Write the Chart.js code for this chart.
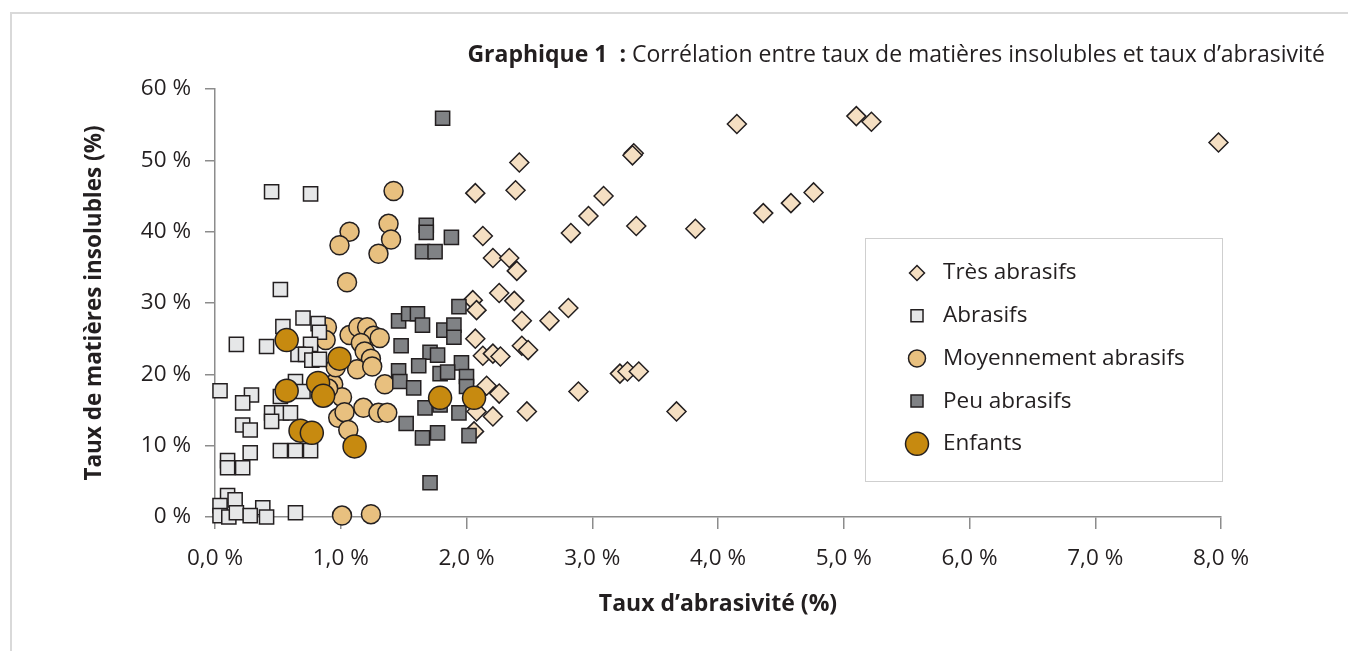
<!DOCTYPE html>
<html>
<head>
<meta charset="utf-8">
<script src="https://cdn.jsdelivr.net/npm/chart.js"></script>
<style>
  html, body { margin: 0; padding: 0; background: #fff; }
  #wrap { position: relative; width: 1348px; height: 651px; overflow: hidden; }
  #frame { position: absolute; left: 10px; top: 12px; width: 1400px; height: 700px; border: 2px solid #d9d9d9; box-sizing: border-box; }
  canvas { position: absolute; left: 0; top: 0; }
</style>
</head>
<body>
<div id="wrap">
  <div id="frame"></div>
  <canvas id="chart" width="1348" height="651"></canvas>
</div>
<script>
// values in % (x = taux d'abrasivité, y = taux de matières insolubles)
const tresX = [7.98, 5.10, 5.22, 4.15, 3.33, 3.32, 2.42, 2.07, 2.39, 3.09, 2.97, 2.83, 3.35, 3.82, 4.36, 4.58, 4.76,
  2.13, 2.21, 2.34, 2.40, 2.26, 2.05, 2.08, 2.38, 2.81, 2.66, 2.44, 2.07, 2.13, 2.21, 2.27, 2.44, 2.49,
  3.22, 3.28, 3.37, 2.89, 2.16, 2.26, 2.08, 2.21, 2.48, 2.06, 3.67];
const tresY = [52.5, 56.2, 55.4, 55.1, 51.0, 50.7, 49.7, 45.4, 45.8, 45.0, 42.2, 39.8, 40.8, 40.4, 42.6, 44.0, 45.5,
  39.4, 36.3, 36.3, 34.5, 31.4, 30.4, 29.0, 30.3, 29.3, 27.5, 27.5, 25.0, 22.6, 22.9, 22.5, 24.0, 23.4,
  20.1, 20.4, 20.4, 17.6, 18.4, 17.3, 14.8, 14.1, 14.8, 12.0, 14.8];

const abrX = [0.45, 0.76, 0.52, 0.70, 0.54, 0.82, 0.83, 0.17, 0.41, 0.76, 0.66, 0.72, 0.77, 0.83,
  0.04, 0.29, 0.22, 0.52, 0.64, 0.70, 0.45, 0.53, 0.60, 0.45, 0.22, 0.28, 0.52, 0.64, 0.76, 0.28,
  0.10, 0.10, 0.22, 0.10, 0.16, 0.04, 0.38, 0.04, 0.11, 0.17, 0.28, 0.41, 0.64];
const abrY = [45.6, 45.3, 31.9, 27.9, 26.7, 27.1, 25.9, 24.2, 23.9, 24.2, 22.8, 22.8, 22.0, 22.1,
  17.7, 17.1, 16.0, 16.9, 19.0, 17.6, 14.6, 14.6, 14.6, 13.4, 12.9, 12.2, 9.3, 9.3, 9.3, 9.0,
  7.9, 6.9, 6.9, 3.0, 2.4, 1.6, 1.3, 0.2, 0.0, 0.6, 0.2, 0.0, 0.6];

const moyX = [1.42, 1.38, 1.40, 1.07, 0.99, 1.30, 1.05, 0.89, 0.88, 1.07, 1.14, 1.21, 1.26, 1.31, 1.16, 1.19, 1.24,
  1.13, 1.25, 0.94, 1.01, 1.35, 1.18, 1.30, 1.37, 0.98, 1.03, 1.06, 1.01, 1.24, 0.96, 0.90];
const moyY = [45.7, 41.1, 38.9, 40.0, 38.1, 36.9, 32.9, 26.6, 24.8, 25.5, 26.6, 26.6, 25.4, 25.1, 24.4, 23.2, 22.2,
  20.7, 21.1, 18.6, 16.8, 18.6, 15.3, 14.6, 14.6, 13.9, 14.7, 12.2, 0.2, 0.4, 21.0, 18.0];

const peuX = [1.81, 1.68, 1.68, 1.88, 1.65, 1.75, 1.94, 1.46, 1.54, 1.61, 1.65, 1.82, 1.90, 1.90, 1.48, 1.71, 1.77,
  1.62, 1.96, 1.46, 1.47, 1.79, 1.85, 2.00, 2.00, 1.58, 1.67, 1.79, 1.94, 1.52, 1.77, 1.65, 2.02, 1.71];
const peuY = [55.9, 40.9, 39.9, 39.2, 37.2, 37.2, 29.5, 27.5, 28.5, 28.5, 26.9, 26.2, 26.9, 25.2, 24.0, 23.1, 22.7,
  21.2, 21.6, 20.5, 19.0, 20.1, 20.3, 19.7, 18.3, 18.1, 15.3, 15.7, 14.6, 13.1, 11.8, 11.1, 11.4, 4.8];

const enfX = [0.57, 0.99, 0.57, 0.82, 0.86, 0.68, 0.77, 1.11, 1.79, 2.06];
const enfY = [24.8, 22.2, 17.7, 18.8, 17.0, 12.1, 11.8, 9.9, 16.7, 16.7];

const xTicks = [0, 1, 2, 3, 4, 5, 6, 7, 8];
const yTicks = [0, 10, 20, 30, 40, 50, 60];

const FONT = '"Open Sans"';
const FSIZE = 22.5;
const INK = '#231f20';
const AXIS = '#8c8c8c';

function pairs(xs, ys) {
  return xs.map((x, i) => ({ x: x, y: ys[i] }));
}

const datasets = [
  { label: 'Très abrasifs', data: pairs(tresX, tresY), pointStyle: 'rectRot', pointRadius: 9.5,
    backgroundColor: '#f5dfc2', order: 4, legendR: 7.5 },
  { label: 'Abrasifs', data: pairs(abrX, abrY), pointStyle: 'rect', pointRadius: 10,
    backgroundColor: '#e6e7e8', order: 2, legendR: 8.5 },
  { label: 'Moyennement abrasifs', data: pairs(moyX, moyY), pointStyle: 'circle', pointRadius: 9.5,
    backgroundColor: '#e8c07f', order: 3, legendR: 8.5 },
  { label: 'Peu abrasifs', data: pairs(peuX, peuY), pointStyle: 'rect', pointRadius: 10,
    backgroundColor: '#808285', order: 1, legendR: 8.5 },
  { label: 'Enfants', data: pairs(enfX, enfY), pointStyle: 'circle', pointRadius: 11.5,
    backgroundColor: '#c78a10', order: 0, legendR: 11.5 }
];
datasets.forEach(d => {
  d.borderColor = INK;
  d.borderWidth = 1.5;
  d.pointHoverRadius = d.pointRadius;
  d.clip = false;
});

function drawShape(ctx, style, r, x, y) {
  ctx.beginPath();
  if (style === 'rectRot') {
    ctx.moveTo(x - r, y);
    ctx.lineTo(x, y - r);
    ctx.lineTo(x + r, y);
    ctx.lineTo(x, y + r);
    ctx.closePath();
  } else if (style === 'rect') {
    const s = r * Math.SQRT1_2;
    ctx.rect(x - s, y - s, 2 * s, 2 * s);
  } else {
    ctx.arc(x, y, r, 0, Math.PI * 2);
  }
  ctx.fill();
  ctx.stroke();
}

const overlay = {
  id: 'overlay',
  afterDraw(chart) {
    const ctx = chart.ctx;
    ctx.save();
    // title, right aligned
    const rest = 'Corrélation entre taux de matières insolubles et taux d’abrasivité';
    ctx.fillStyle = INK;
    ctx.textBaseline = 'middle';
    ctx.textAlign = 'right';
    ctx.font = '23px ' + FONT;
    ctx.fillText(rest, 1325, 55);
    const w = ctx.measureText(rest).width;
    ctx.font = 'bold 23px ' + FONT;
    ctx.fillText('Graphique 1  : ', 1325 - w, 55);

    // legend box
    ctx.fillStyle = '#fff';
    ctx.fillRect(865.5, 238.5, 357, 243);
    ctx.strokeStyle = '#cfcfcf';
    ctx.lineWidth = 1;
    ctx.strokeRect(865.5, 238.5, 357, 243);
    chart.data.datasets.forEach((d, i) => {
      const y = 273 + i * 42.7;
      ctx.fillStyle = d.backgroundColor;
      ctx.strokeStyle = d.borderColor;
      ctx.lineWidth = 1.5;
      drawShape(ctx, d.pointStyle, d.legendR, 917, y);
      ctx.fillStyle = INK;
      ctx.textAlign = 'left';
      ctx.font = FSIZE + 'px ' + FONT;
      ctx.fillText(d.label, 943, y);
    });
    ctx.restore();
  }
};

new Chart(document.getElementById('chart'), {
  type: 'scatter',
  data: { datasets: datasets },
  options: {
    responsive: false,
    animation: false,
    events: [],
    layout: { padding: { top: 89, right: 127, bottom: 0, left: 0 } },
    plugins: { legend: { display: false }, tooltip: { enabled: false }, title: { display: false } },
    scales: {
      x: {
        type: 'linear', min: 0, max: 8,
        afterBuildTicks: s => { s.ticks = xTicks.map(v => ({ value: v })); },
        afterFit: s => { s.height = 134; },
        ticks: {
          color: INK, padding: 16, font: { family: FONT, size: FSIZE },
          callback: v => v.toFixed(1).replace('.', ',') + ' %'
        },
        grid: { drawOnChartArea: false, tickLength: 12, color: AXIS, lineWidth: 1.5 },
        border: { color: AXIS, width: 1.5 },
        title: { display: true, text: 'Taux d’abrasivité (%)', color: INK,
          font: { family: FONT, size: 23, weight: 'bold' }, padding: { top: 0, bottom: 33 } }
      },
      y: {
        type: 'linear', min: 0, max: 60,
        afterBuildTicks: s => { s.ticks = yTicks.map(v => ({ value: v })); },
        afterFit: s => { s.width = 215; },
        ticks: {
          color: INK, padding: 14, font: { family: FONT, size: FSIZE },
          callback: v => v + ' %'
        },
        grid: { drawOnChartArea: false, tickLength: 10, color: AXIS, lineWidth: 1.5 },
        border: { color: AXIS, width: 1.5 },
        title: { display: true, text: 'Taux de matières insolubles (%)', color: INK,
          font: { family: FONT, size: FSIZE, weight: 'bold' }, padding: { top: 81, bottom: 0 } }
      }
    }
  },
  plugins: [overlay]
});
</script>
</body>
</html>
